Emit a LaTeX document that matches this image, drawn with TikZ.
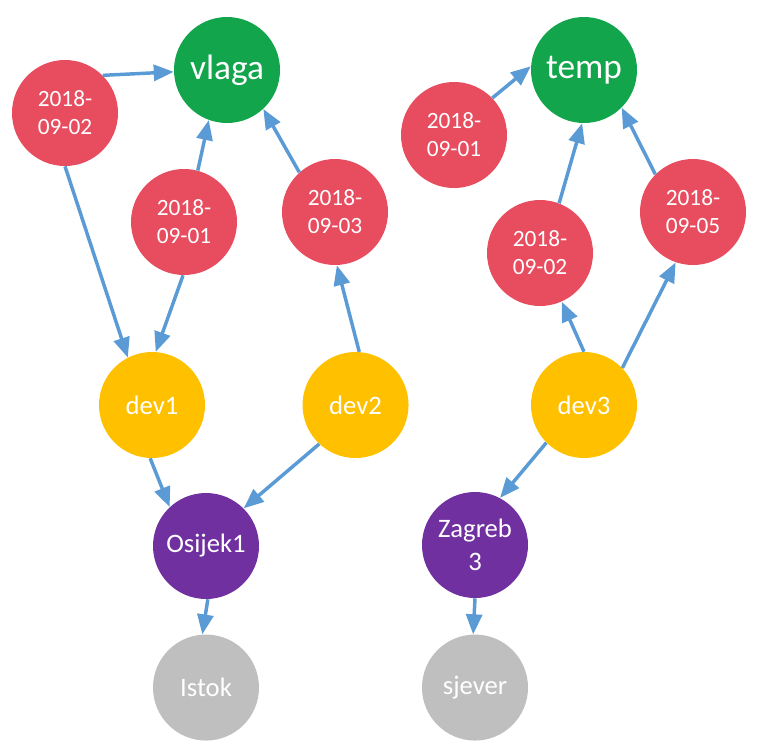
\documentclass[tikz,border=0pt]{standalone}
\usepackage{fontspec}
\setmainfont{Carlito}
\usetikzlibrary{arrows.meta,positioning}
\definecolor{metricFill}{HTML}{12A54B}
\definecolor{dateFill}{HTML}{E84C5F}
\definecolor{devFill}{HTML}{FFC000}
\definecolor{siteFill}{HTML}{7030A0}
\definecolor{regionFill}{HTML}{BFBFBF}
\definecolor{arcBlue}{HTML}{5B9BD5}
\tikzset{
  nodebox/.style={circle, minimum size=79.5pt, inner sep=1pt, text=white, align=center},
  metricbox/.style={nodebox, fill=metricFill, font=\fontsize{26.5}{30}\selectfont},
  datebox/.style={nodebox, fill=dateFill, font=\fontsize{17.5}{21}\selectfont},
  devbox/.style={nodebox, fill=devFill, font=\fontsize{20}{24}\selectfont},
  sitebox/.style={nodebox, fill=siteFill, font=\fontsize{20}{25}\selectfont},
  regionbox/.style={nodebox, fill=regionFill, font=\fontsize{20}{24}\selectfont},
  arc/.style={-{Triangle[length=15pt, width=12pt]}, line width=2.6pt, draw=arcBlue},
}
\begin{document}
\begin{tikzpicture}[x=0.75pt, y=-0.75pt]
    \useasboundingbox (0,0) rectangle (759,754);
    % vlaga side
    \node[metricbox] (vlaga) at (227,70) {vlaga};
    \node[datebox] (vDay2) at (65,113) {2018-\\09-02};
    \node[datebox] (vDay1) at (184,222) {2018-\\09-01};
    \node[datebox] (vDay3) at (335,212) {2018-\\09-03};
    \node[devbox] (dev1) at (152,405) {dev1};
    \node[devbox, right=72.75pt of dev1] (dev2) {dev2};
    \node[sitebox] (osijek) at (206,546) {Osijek1};
    \node[regionbox, below=26.25pt of osijek] (istok) {Istok};
    \draw[arc] (vDay2.45) -- (vlaga.182);
    \draw[arc] (vDay1.75) -- (vlaga.-110);
    \draw[arc] (vDay3.132) -- (vlaga.-47);
    \draw[arc] (vDay2.-90) -- (dev1.117);
    \draw[arc] (vDay1.-91) -- (dev1.86);
    \draw[arc] (dev2.86) -- (vDay3.-88);
    \draw[arc] (dev1.-92) -- (osijek.133);
    \draw[arc] (dev2.-133) -- (osijek.45);
    \draw[arc] (osijek.-88) -- (istok.94);
    % temp side
    \node[metricbox] (temp) at (584,70) {temp};
    \node[datebox] (tDay1) at (454,135) {2018-\\09-01};
    \node[datebox] (tDay2) at (540,253) {2018-\\09-02};
    \node[datebox] (tDay5) at (693,212) {2018-\\09-05};
    \node[devbox] (dev3) at (584,405) {dev3};
    \node[sitebox] (zagreb) at (475,545) {Zagreb\\3};
    \node[regionbox, below=27pt of zagreb] (sjever) {sjever};
    \draw[arc] (tDay1.44) -- (temp.176);
    \draw[arc] (tDay2.69) -- (temp.-92);
    \draw[arc] (tDay5.135) -- (temp.-45);
    \draw[arc] (dev3.90) -- (tDay2.-66);
    \draw[arc] (dev3.44) -- (tDay5.-109);
    \draw[arc] (dev3.-135) -- (zagreb.62);
    \draw[arc] (zagreb.-90) -- (sjever.92);
  \end{tikzpicture}
\end{document}
